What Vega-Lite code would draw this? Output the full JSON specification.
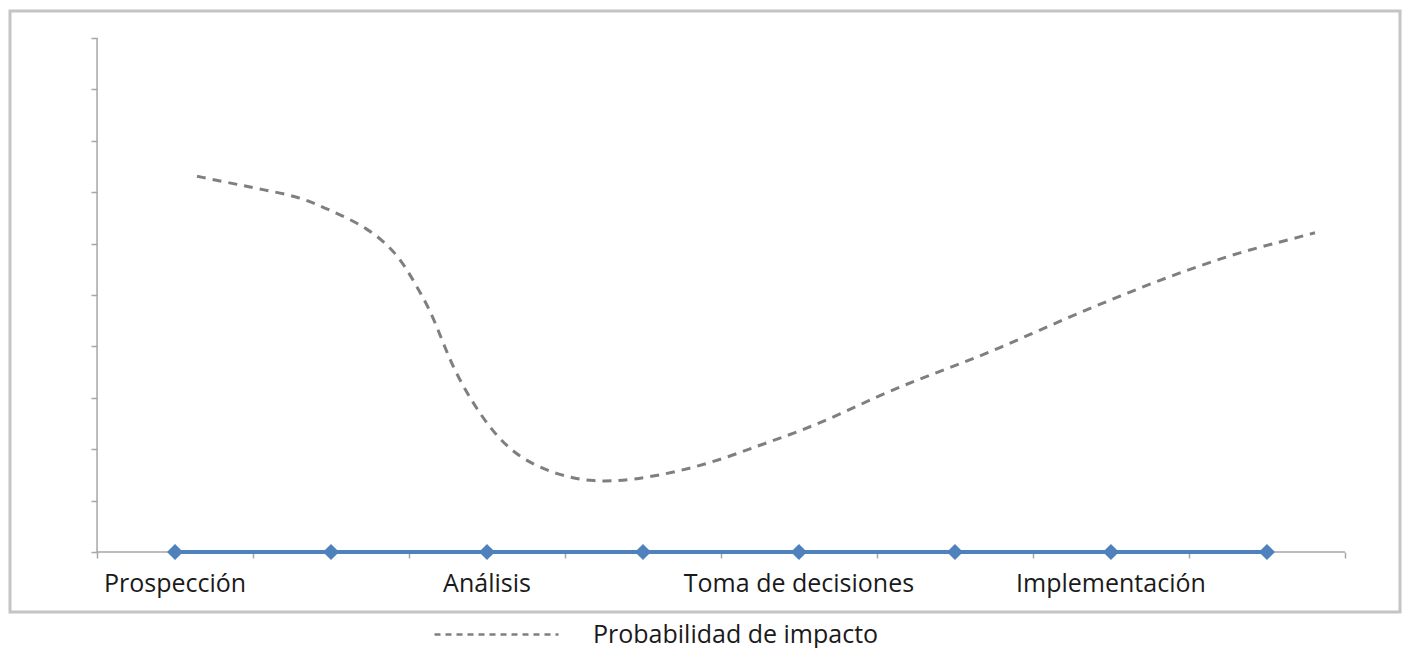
{
  "$schema": "https://vega.github.io/schema/vega-lite/v6.json",
  "width": 1390,
  "height": 601,
  "autosize": "none",
  "padding": {"left": 10, "top": 11, "right": 2, "bottom": 36},
  "background": "white",
  "config": {
    "view": {"stroke": "#c4c4c4", "strokeWidth": 3},
    "font": "Open Sans"
  },
  "datasets": {
    "ejeY": [{"x": 0, "y": 0, "y2": 10}],
    "ejeX": [{"x": 0, "x2": 8, "y": 0}],
    "fases": [
      {"x": 0.5, "y": 0, "etiqueta": "Prospección"},
      {"x": 1.5, "y": 0, "etiqueta": ""},
      {"x": 2.5, "y": 0, "etiqueta": "Análisis"},
      {"x": 3.5, "y": 0, "etiqueta": ""},
      {"x": 4.5, "y": 0, "etiqueta": "Toma de decisiones"},
      {"x": 5.5, "y": 0, "etiqueta": ""},
      {"x": 6.5, "y": 0, "etiqueta": "Implementación"},
      {"x": 7.5, "y": 0, "etiqueta": ""}
    ],
    "curva": [
      {"x": 0.641, "y": 7.31, "serie": "Probabilidad de impacto"},
      {"x": 0.853, "y": 7.18, "serie": "Probabilidad de impacto"},
      {"x": 1.045, "y": 7.06, "serie": "Probabilidad de impacto"},
      {"x": 1.301, "y": 6.91, "serie": "Probabilidad de impacto"},
      {"x": 1.494, "y": 6.65, "serie": "Probabilidad de impacto"},
      {"x": 1.731, "y": 6.32, "serie": "Probabilidad de impacto"},
      {"x": 1.923, "y": 5.82, "serie": "Probabilidad de impacto"},
      {"x": 2.038, "y": 5.23, "serie": "Probabilidad de impacto"},
      {"x": 2.135, "y": 4.71, "serie": "Probabilidad de impacto"},
      {"x": 2.212, "y": 4.12, "serie": "Probabilidad de impacto"},
      {"x": 2.282, "y": 3.6, "serie": "Probabilidad de impacto"},
      {"x": 2.372, "y": 3.09, "serie": "Probabilidad de impacto"},
      {"x": 2.468, "y": 2.63, "serie": "Probabilidad de impacto"},
      {"x": 2.583, "y": 2.18, "serie": "Probabilidad de impacto"},
      {"x": 2.731, "y": 1.79, "serie": "Probabilidad de impacto"},
      {"x": 2.949, "y": 1.5, "serie": "Probabilidad de impacto"},
      {"x": 3.179, "y": 1.36, "serie": "Probabilidad de impacto"},
      {"x": 3.436, "y": 1.4, "serie": "Probabilidad de impacto"},
      {"x": 3.718, "y": 1.56, "serie": "Probabilidad de impacto"},
      {"x": 3.994, "y": 1.79, "serie": "Probabilidad de impacto"},
      {"x": 4.25, "y": 2.08, "serie": "Probabilidad de impacto"},
      {"x": 4.506, "y": 2.35, "serie": "Probabilidad de impacto"},
      {"x": 4.763, "y": 2.68, "serie": "Probabilidad de impacto"},
      {"x": 5.019, "y": 3.05, "serie": "Probabilidad de impacto"},
      {"x": 5.276, "y": 3.37, "serie": "Probabilidad de impacto"},
      {"x": 5.532, "y": 3.66, "serie": "Probabilidad de impacto"},
      {"x": 5.788, "y": 3.97, "serie": "Probabilidad de impacto"},
      {"x": 6.045, "y": 4.32, "serie": "Probabilidad de impacto"},
      {"x": 6.301, "y": 4.66, "serie": "Probabilidad de impacto"},
      {"x": 6.558, "y": 4.98, "serie": "Probabilidad de impacto"},
      {"x": 6.814, "y": 5.29, "serie": "Probabilidad de impacto"},
      {"x": 7.071, "y": 5.57, "serie": "Probabilidad de impacto"},
      {"x": 7.327, "y": 5.83, "serie": "Probabilidad de impacto"},
      {"x": 7.583, "y": 6.03, "serie": "Probabilidad de impacto"},
      {"x": 7.808, "y": 6.21, "serie": "Probabilidad de impacto"}
    ]
  },
  "encoding": {
    "x": {
      "field": "x",
      "type": "quantitative",
      "scale": {"domain": [-0.558, 8.353], "nice": false, "zero": false},
      "axis": {
        "values": [0, 1, 2, 3, 4, 5, 6, 7, 8],
        "labels": false,
        "domain": false,
        "grid": false,
        "ticks": true,
        "tickSize": 6,
        "tickColor": "#a6a6a6",
        "tickWidth": 1.5,
        "offset": -60,
        "title": null
      }
    },
    "y": {
      "field": "y",
      "type": "quantitative",
      "scale": {"domain": [-1.167, 10.525], "nice": false, "zero": false},
      "axis": {
        "values": [0, 1, 2, 3, 4, 5, 6, 7, 8, 9, 10],
        "labels": false,
        "domain": false,
        "grid": false,
        "ticks": true,
        "tickSize": 6,
        "tickColor": "#a6a6a6",
        "tickWidth": 1.5,
        "offset": -87,
        "title": null
      }
    }
  },
  "layer": [
    {
      "data": {"name": "ejeY"},
      "mark": {"type": "rule", "color": "#a6a6a6", "strokeWidth": 1.5},
      "encoding": {"y2": {"field": "y2"}}
    },
    {
      "data": {"name": "ejeX"},
      "mark": {"type": "rule", "color": "#a6a6a6", "strokeWidth": 1.5},
      "encoding": {"x2": {"field": "x2"}}
    },
    {
      "data": {"name": "fases"},
      "mark": {"type": "line", "color": "#4f81bd", "strokeWidth": 4},
      "encoding": {}
    },
    {
      "data": {"name": "fases"},
      "mark": {"type": "point", "shape": "diamond", "filled": true, "size": 260, "color": "#4f81bd", "opacity": 1},
      "encoding": {}
    },
    {
      "data": {"name": "fases"},
      "mark": {"type": "text", "dy": 32, "fontSize": 25, "color": "#1a1a1a", "font": "Open Sans"},
      "encoding": {"text": {"field": "etiqueta"}}
    },
    {
      "data": {"name": "curva"},
      "mark": {"type": "line", "interpolate": "basis", "strokeWidth": 3, "strokeDash": [9, 7]},
      "encoding": {
        "color": {
          "field": "serie",
          "type": "nominal",
          "scale": {"range": ["#7f7f7f"]},
          "legend": {
            "title": null,
            "orient": "none",
            "legendX": 423,
            "legendY": 560,
            "symbolType": "stroke",
            "symbolSize": 15376,
            "symbolStrokeWidth": 2.5,
            "symbolDash": [6, 5],
            "symbolStrokeColor": "#9a9a9a",
            "labelFontSize": 25,
            "labelFont": "Open Sans",
            "labelColor": "#1a1a1a",
            "labelOffset": 33,
            "labelLimit": 0,
            "padding": 0
          }
        }
      }
    }
  ]
}
